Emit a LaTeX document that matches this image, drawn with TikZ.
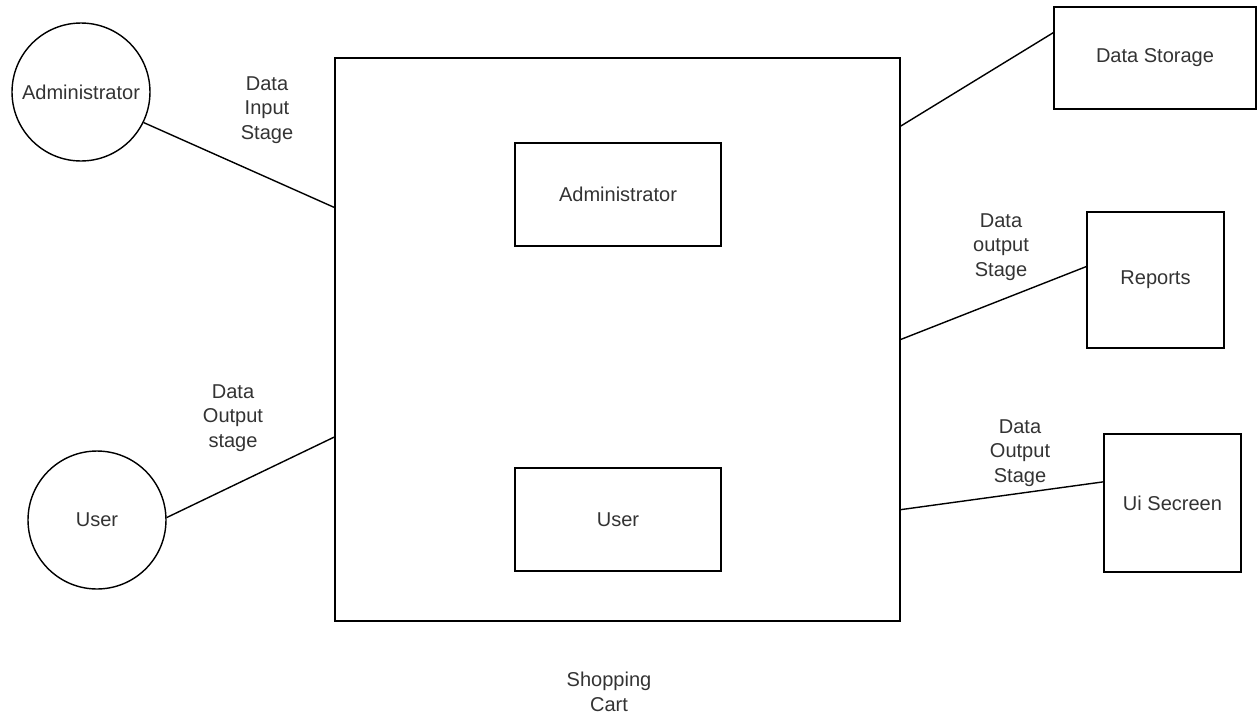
\documentclass[tikz,border=0pt]{standalone}
\usepackage{fontspec}
\setmainfont{Liberation Sans}
\begin{document}
\begin{tikzpicture}[x=0.02cm,y=-0.02cm,
	every node/.style={font=\fontsize{11.4}{13.9}\selectfont,text=black!80},
	actor/.style={draw,circle,minimum size=2.76cm,inner sep=0pt,line width=0.8pt},
	unit/.style={draw,rectangle,inner sep=0pt,line width=0.8pt},
	stage/.style={align=center},
	flow/.style={line width=0.8pt}]
	\useasboundingbox (0,0) rectangle (1257,717);
	\node[unit,minimum width=11.3cm,minimum height=11.26cm] (cart) at (617.5,339.5) {};
	\node[unit,minimum width=4.12cm,minimum height=2.06cm] (inadm) at (618,194.5) {Administrator};
	\node[unit,minimum width=4.12cm,minimum height=2.06cm] (inusr) at (618,519.5) {User};
	\node[stage] (cartlbl) at (609,692) {Shopping\\Cart};
	
	\node[actor] (adm) at (81,92) {Administrator};
	\node[actor] (usr) at (97,520) {User};
	\node[unit,minimum width=4.04cm,minimum height=2.04cm] (store) at (1155,58) {Data Storage};
	\node[unit,minimum width=2.74cm,minimum height=2.72cm] (rep) at (1155.5,280) {Reports};
	\node[unit,minimum width=2.74cm,minimum height=2.76cm] (ui) at (1172.5,503) {Ui Secreen};
	
	\draw[flow] (adm.-26) -- (cart.155.4);
	\draw[flow] (usr.2) -- (cart.199.8);
	\draw[flow] (cart.37.5) -- (store.166.2);
	\draw[flow] (cart.east) -- (rep.169.6);
	\draw[flow] (cart.-31.4) -- (ui.163.2);
	
	\node[stage] (inlbl) at (267,110) {Data\\Input\\Stage};
	\node[stage] (outlbl) at (233,418) {Data\\Output\\stage};
	\node[stage] (replbl) at (1001,247) {Data\\output\\Stage};
	\node[stage] (uilbl) at (1020,453) {Data\\Output\\Stage};
\end{tikzpicture}
\end{document}
